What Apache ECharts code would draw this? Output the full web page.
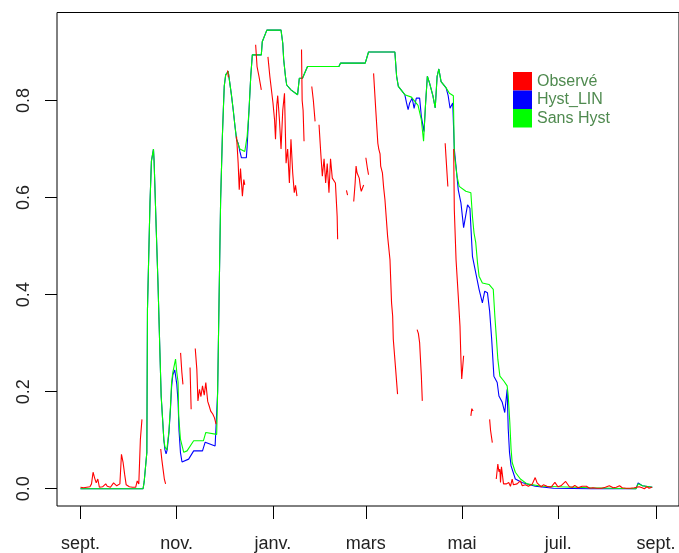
<!DOCTYPE html>
<html>
<head>
<meta charset="utf-8">
<script src="https://cdn.jsdelivr.net/npm/echarts@6/dist/echarts.min.js"></script>
<style>html,body{margin:0;padding:0;background:#fff}#c{width:679px;height:553px}</style>
</head>
<body>
<div id="c"></div>
<script>
// ---- data (day index from 1 Sept) ----
var xTickDays = [0, 61, 122, 181, 242, 303, 365];
var xTickLabels = ['sept.', 'nov.', 'janv.', 'mars', 'mai', 'juil.', 'sept.'];
var yTicks = [0, 0.2, 0.4, 0.6, 0.8];
var seriesNames = ['Observé', 'Hyst_LIN', 'Sans Hyst'];

// Observé (null = missing)
var obsDay = [0,1,2,3,4,5,6,7,8,9,10,11,12,13,14,15,16,17,18,19,20,21,22,23,24,25,26,27,28,29,30,31,32,33,34,35,36,37,38,39,39.5,
  50.9,51.6,52.4,53.2,54.0,54.5,
  63.5,64.3,65.0,65.5,
  69.5,70.2,70.6,
  72.8,73.8,74.5,75.5,76.4,77.4,78.5,79.5,80.7,81.6,82.6,83.9,85.0,86.0,86.5,
  93.3,93.8,94.2,
  99.0,100.0,100.7,101.5,102.1,102.7,103.6,104.2,104.6,
  111.1,112.0,113.2,114.7,115.2,
  118.9,120.1,122.1,123.1,123.7,124.5,125.1,126.2,127.2,128.3,129.4,130.4,131.4,132.5,133.5,134.6,135.6,136.4,137.3,137.8,
  140.2,140.6,141.2,141.8,142.2,
  146.7,147.7,148.8,149.5,
  151.3,152.4,153.4,154.5,155.5,156.5,157.6,158.6,159.7,160.7,161.7,162.5,162.8,163.1,163.5,
  168.7,169.4,169.8,
  173.3,174.2,174.8,175.4,176.8,177.6,178.1,179.6,180.0,
  181.0,182.0,182.7,183.2,
  185.9,187.3,188.6,189.2,190.0,190.4,191.5,192.3,193.1,194.8,196.3,197.3,198.0,198.4,199.9,201.1,201.6,
  213.5,214.3,215.1,216.2,216.8,217.2,
  231.3,231.9,233.0,233.5,
  236.7,237.1,238.2,239.6,240.7,241.3,241.8,243.0,243.5,
  247.6,248.2,249.0,249.5,
  259.5,260.1,261.2,261.7,
  263.7,264.7,265.4,266.0,266.4,267.0,267.9,268.3,269.1,270.2,271.6,272.7,273.8,274.6,275.8,276.9,277.7,279.0,280.2,282.2,284.1,286.6,288.4,289.6,290.5,292.2,293.6,295.9,298.4,300.9,302.8,304.7,307.7,308.2,310.1,312.0,313.5,315.6,318.1,320.9,322.9,325.0,327.5,330.5,332.9,335.4,337.9,339.8,341.9,343.6,346.1,348.6,351.2,354.3,356.2,357.6,359.3,360.6,362.4];
var obsVal = [0.003,0.005,0.002,0.004,0.003,0.002,0.004,0.01,0.034,0.022,0.012,0.02,0.003,0.002,0.004,0.003,0.01,0.005,0.008,0.003,0.005,0.012,0.016,0.006,0.004,0.01,0.071,0.055,0.03,0.008,0.005,0.004,0.006,0.003,0.002,0.003,0.016,0.01,0.102,0.143,null,
  0.082,0.06,0.04,0.02,0.01,null,
  0.28,0.24,0.215,null,
  0.25,0.164,null,
  0.289,0.246,0.181,0.205,0.19,0.212,0.193,0.219,0.18,0.171,0.16,0.154,0.146,0.133,null,
  0.862,0.848,null,
  0.726,0.672,0.616,0.66,0.664,0.603,0.637,0.626,null,
  0.915,0.87,0.85,0.822,null,
  0.89,0.85,0.795,0.76,0.72,0.79,0.81,0.76,0.70,0.78,0.815,0.671,0.70,0.63,0.72,0.651,0.61,0.625,0.603,null,
  0.905,0.80,0.78,0.716,null,
  0.829,0.80,0.757,null,
  0.75,0.692,0.644,0.68,0.63,0.67,0.61,0.68,0.64,0.644,0.63,0.58,0.561,0.514,null,
  0.615,0.605,null,
  0.592,0.63,0.665,0.651,0.64,0.62,0.613,0.626,null,
  0.682,0.66,0.647,null,
  0.856,0.78,0.712,0.70,0.69,0.665,0.651,0.62,0.596,0.52,0.472,0.383,0.356,0.308,0.246,0.195,null,
  0.328,0.32,0.301,0.232,0.181,null,
  0.712,0.68,0.623,null,
  0.70,0.575,0.472,0.397,0.335,0.267,0.226,0.274,null,
  0.15,0.165,0.16,null,
  0.143,0.12,0.095,null,
  0.02,0.051,0.035,0.04,0.013,0.045,0.047,0.01,0.012,0.01,0.013,0.005,0.02,0.008,0.012,0.01,0.014,0.016,0.006,0.008,0.005,0.01,0.023,0.012,0.01,0.004,0.008,0.005,0.003,0.013,0.004,0.006,0.015,0.012,0.004,0.003,0.007,0.002,0.005,0.005,0.001,0.002,0.001,0.001,0.003,0.006,0.002,0.003,0.006,0.002,0.001,0.001,0.002,0.004,0.002,0.0,0.004,0.001,0.003];

// Hyst_LIN
var hystDay = [0,39.7,40.4,42.1,42.5,43.3,44.1,45.0,46.3,46.7,47.7,48.1,49.2,49.8,50.4,51.2,52.1,52.9,53.6,54.3,55.0,56.1,57.1,57.8,58.6,59.8,60.4,61.1,61.9,62.5,63.4,64.4,65.5,68.6,71.8,77.4,79.1,85.4,86.4,87.0,87.9,88.9,90.0,90.6,91.2,92.1,93.7,95.8,96.9,98.0,99.0,100.0,101.1,102.1,105.2,105.7,106.9,108.0,109.0,114.7,115.3,118.2,127.2,128.3,128.9,130.0,130.8,133.5,137.7,138.8,140.8,144.0,163.9,164.9,180.6,182.7,199.4,200.5,201.6,205.7,206.8,207.8,208.8,210.4,211.6,213.0,215.1,216.2,217.9,218.9,220.0,221.4,223.5,225.0,226.2,227.3,228.7,231.9,233.2,234.4,236.1,237.1,238.2,239.6,241.3,243.0,245.5,247.0,248.6,250.7,252.8,254.9,256.4,258.1,259.5,260.8,262.2,264.3,265.4,267.5,269.1,270.6,271.3,272.1,273.1,275.8,280.0,288.4,300,324.2,352.3,353.7,356.4,362.7];
var hystVal = [0,0,0.014,0.075,0.37,0.37,0.59,0.675,0.70,0.675,0.675,0.53,0.42,0.35,0.28,0.19,0.143,0.10,0.08,0.072,0.08,0.115,0.165,0.21,0.235,0.245,0.245,0.215,0.18,0.12,0.075,0.055,0.054,0.061,0.078,0.078,0.096,0.088,0.09,0.2,0.39,0.596,0.726,0.78,0.83,0.853,0.86,0.81,0.78,0.747,0.72,0.712,0.695,0.682,0.682,0.705,0.78,0.85,0.894,0.894,0.921,0.945,0.945,0.918,0.884,0.85,0.832,0.822,0.812,0.846,0.846,0.87,0.87,0.877,0.877,0.90,0.90,0.85,0.829,0.812,0.795,0.781,0.795,0.805,0.784,0.805,0.805,0.767,0.736,0.795,0.85,0.836,0.81,0.785,0.85,0.865,0.839,0.826,0.81,0.784,0.795,0.70,0.664,0.616,0.589,0.538,0.585,0.578,0.479,0.445,0.411,0.383,0.407,0.404,0.366,0.308,0.232,0.219,0.191,0.178,0.157,0.205,0.123,0.075,0.047,0.02,0.013,0.005,0.001,0,0,0.012,0.006,0.003];

// Sans Hyst
var sansDay = [0,39.7,40.4,42.1,42.5,43.3,44.1,45.0,46.3,46.7,47.7,48.1,49.2,49.8,50.4,51.2,52.1,52.9,53.6,54.8,56.1,57.1,57.8,58.6,60.3,61.1,61.9,62.3,63.4,65.5,67.6,71.8,78.0,79.5,86.4,87.0,87.9,88.9,90.0,90.6,91.2,92.1,93.7,95.8,96.9,98.0,99.0,101.1,104.2,105.7,106.9,108.0,109.0,114.7,115.3,118.2,127.2,128.3,128.9,130.0,130.8,133.5,137.7,138.8,140.8,144.0,163.9,164.9,180.6,182.7,199.4,200.5,201.6,205.7,209.9,214.1,216.2,217.6,218.9,220.0,221.4,223.5,225.0,226.2,227.3,228.7,231.9,234.0,236.5,237.1,238.8,240.2,244.4,247.6,248.6,249.6,250.7,251.8,252.8,254.9,259.1,261.8,262.8,263.7,264.7,266.0,268.5,270.6,271.3,272.3,273.1,273.8,275.8,279.0,283.2,292.6,323.4,324.2,352.3,353.7,356.4,362.7];
var sansVal = [0,0,0.014,0.075,0.37,0.37,0.59,0.675,0.70,0.675,0.675,0.53,0.42,0.35,0.28,0.19,0.143,0.10,0.086,0.08,0.119,0.17,0.22,0.24,0.267,0.24,0.22,0.15,0.102,0.075,0.078,0.099,0.099,0.116,0.112,0.2,0.39,0.596,0.726,0.78,0.83,0.853,0.86,0.81,0.78,0.747,0.72,0.70,0.695,0.726,0.78,0.85,0.894,0.894,0.921,0.945,0.945,0.918,0.884,0.85,0.832,0.822,0.812,0.846,0.846,0.87,0.87,0.877,0.877,0.90,0.90,0.85,0.829,0.812,0.807,0.79,0.76,0.716,0.795,0.85,0.836,0.81,0.785,0.85,0.865,0.839,0.826,0.815,0.81,0.69,0.644,0.623,0.613,0.61,0.561,0.527,0.507,0.466,0.438,0.424,0.421,0.411,0.356,0.315,0.267,0.232,0.222,0.212,0.191,0.137,0.082,0.054,0.034,0.02,0.01,0.005,0.002,0,0,0.01,0.006,0.003];

function pairs(d, v) {
  return d.map(function (x, i) { return [x, v[i] === null ? '-' : v[i]]; });
}

var FONT = '"Liberation Sans", Arial, sans-serif';
var chart = echarts.init(document.getElementById('c'), null, {renderer: 'canvas'});
chart.setOption({
  animation: false,
  backgroundColor: '#fff',
  grid: {left: 57, top: 12.5, width: 628.3, height: 494.5, show: true, borderColor: '#000', borderWidth: 1, backgroundColor: 'transparent'},
  legend: {
    orient: 'vertical', left: 513, top: 72, itemWidth: 19, itemHeight: 18.5, itemGap: 0, padding: 0,
    icon: 'rect', selectedMode: false,
    textStyle: {fontFamily: FONT, fontSize: 16, color: '#4f8a4f'},
    data: seriesNames
  },
  xAxis: {
    type: 'value', min: -14.88, max: 379.6,
    axisLine: {show: false, onZero: false},
    splitLine: {show: false},
    axisTick: {show: true, length: 13, lineStyle: {color: '#000', width: 1}, customValues: xTickDays},
    axisLabel: {
      customValues: xTickDays, margin: 29, fontFamily: FONT, fontSize: 18, color: '#222',
      formatter: function (v) { var i = xTickDays.indexOf(v); return i >= 0 ? xTickLabels[i] : ''; }
    }
  },
  yAxis: {
    type: 'value', min: -0.0356, max: 0.9814,
    axisLine: {show: false, onZero: false},
    splitLine: {show: false},
    axisTick: {show: true, length: 12, lineStyle: {color: '#000', width: 1}, customValues: yTicks},
    axisLabel: {
      customValues: yTicks, rotate: 90, margin: 24, fontFamily: FONT, fontSize: 18, color: '#222',
      formatter: function (v) { return v.toFixed(1); }
    }
  },
  series: [
    {name: seriesNames[1], type: 'line', data: pairs(hystDay, hystVal), showSymbol: false, z: 2,
     lineStyle: {color: '#0000ff', width: 1.1}, itemStyle: {color: '#0000ff'}},
    {name: seriesNames[2], type: 'line', data: pairs(sansDay, sansVal), showSymbol: false, z: 3,
     lineStyle: {color: '#00ff00', width: 1.1}, itemStyle: {color: '#00ff00'}},
    {name: seriesNames[0], type: 'line', data: pairs(obsDay, obsVal), showSymbol: false, z: 4, connectNulls: false,
     lineStyle: {color: '#ff0000', width: 1.1}, itemStyle: {color: '#ff0000'}}
  ]
});
</script>
</body>
</html>
